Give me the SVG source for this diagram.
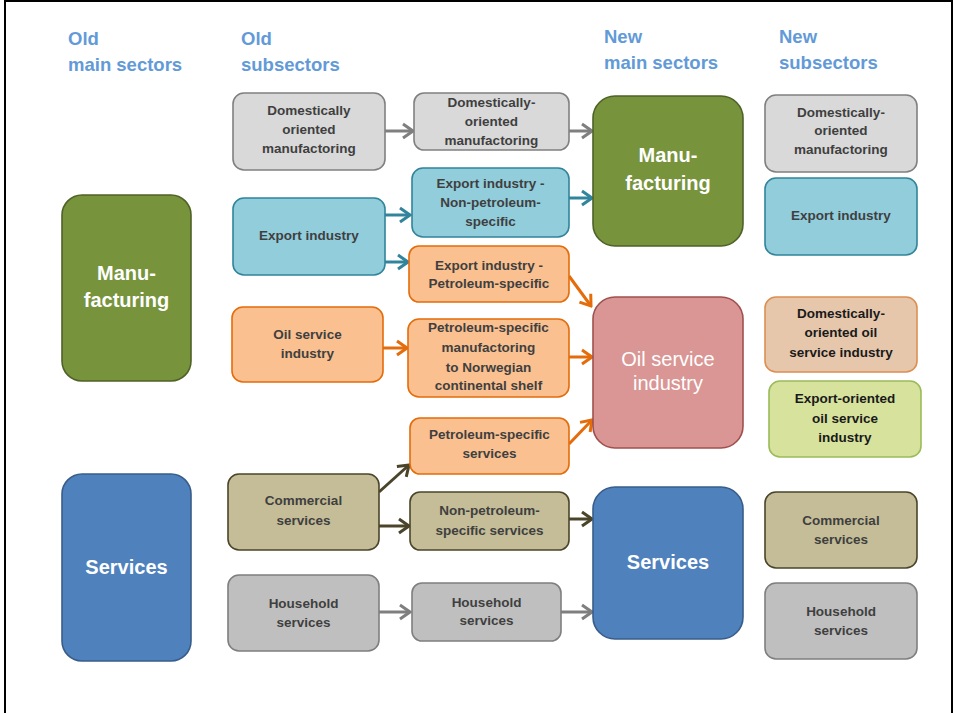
<svg xmlns="http://www.w3.org/2000/svg" width="955" height="713" viewBox="0 0 955 713">
<defs>
<style>
.hdr{font-family:"Liberation Sans",Arial,sans-serif;font-size:18.5px;font-weight:bold;fill:#629ad8}
.t{font-family:"Liberation Sans",Arial,sans-serif;font-size:13.5px;font-weight:bold;fill:#3f3f3f;text-anchor:middle}
.big{font-family:"Liberation Sans",Arial,sans-serif;font-size:20px;font-weight:bold;fill:#ffffff;text-anchor:middle}
.gray{fill:#d9d9d9;stroke:#808080;stroke-width:1.6}
.teal{fill:#92cddc;stroke:#31849b;stroke-width:1.6}
.orange{fill:#fac090;stroke:#e46c0a;stroke-width:1.6}
.olive{fill:#c4bd97;stroke:#4a452a;stroke-width:1.6}
.hh{fill:#bfbfbf;stroke:#7f7f7f;stroke-width:1.6}
.green{fill:#77933c;stroke:#4f6228;stroke-width:1.6}
.blue{fill:#4f81bd;stroke:#385d8a;stroke-width:1.6}
.pink{fill:#d99694;stroke:#a0504e;stroke-width:1.6}
.tan{fill:#e6c7ab;stroke:#dd8f52;stroke-width:1.6}
.lime{fill:#d7e29c;stroke:#9bbb59;stroke-width:1.6}
.c{fill:none;stroke-width:3}
.cg{stroke:#7f7f7f}
.ct{stroke:#31849b}
.co{stroke:#e46c0a}
.cd{stroke:#4a452a}
</style>
<marker id="ag" viewBox="0 0 14 18" refX="12" refY="9" markerWidth="14" markerHeight="18" markerUnits="userSpaceOnUse" orient="auto"><path d="M2,2 L12,9 L2,16" fill="none" stroke="#7f7f7f" stroke-width="3"/></marker>
<marker id="at" viewBox="0 0 14 18" refX="12" refY="9" markerWidth="14" markerHeight="18" markerUnits="userSpaceOnUse" orient="auto"><path d="M2,2 L12,9 L2,16" fill="none" stroke="#31849b" stroke-width="3"/></marker>
<marker id="ao" viewBox="0 0 14 18" refX="12" refY="9" markerWidth="14" markerHeight="18" markerUnits="userSpaceOnUse" orient="auto"><path d="M2,2 L12,9 L2,16" fill="none" stroke="#e46c0a" stroke-width="3"/></marker>
<marker id="ad" viewBox="0 0 14 18" refX="12" refY="9" markerWidth="14" markerHeight="18" markerUnits="userSpaceOnUse" orient="auto"><path d="M2,2 L12,9 L2,16" fill="none" stroke="#4a452a" stroke-width="3"/></marker>
</defs>
<rect x="0" y="0" width="955" height="713" fill="#ffffff"/>
<rect x="5" y="1" width="947" height="730" fill="none" stroke="#000000" stroke-width="2"/>

<g id="headers">
<text class="hdr" x="68" y="45">Old</text>
<text class="hdr" x="68" y="71">main sectors</text>
<text class="hdr" x="241" y="45">Old</text>
<text class="hdr" x="241" y="71">subsectors</text>
<text class="hdr" x="604" y="43">New</text>
<text class="hdr" x="604" y="69">main sectors</text>
<text class="hdr" x="779" y="43">New</text>
<text class="hdr" x="779" y="69">subsectors</text>
</g>

<g id="connectors">
<path class="c cg" d="M385,131 L413,131" marker-end="url(#ag)"/>
<path class="c cg" d="M569,131 L592,131" marker-end="url(#ag)"/>
<path class="c ct" d="M385,215 L410,215" marker-end="url(#at)"/>
<path class="c ct" d="M385,262 L408,262" marker-end="url(#at)"/>
<path class="c ct" d="M569,198 L592,198" marker-end="url(#at)"/>
<path class="c co" d="M569,276 L591,306" marker-end="url(#ao)"/>
<path class="c co" d="M383,348 L407,348" marker-end="url(#ao)"/>
<path class="c co" d="M569,357 L592,357" marker-end="url(#ao)"/>
<path class="c co" d="M569,444 L592,420" marker-end="url(#ao)"/>
<path class="c cd" d="M379,492 L409,465" marker-end="url(#ad)"/>
<path class="c cd" d="M379,526 L409,526" marker-end="url(#ad)"/>
<path class="c cd" d="M569,519 L592,519" marker-end="url(#ad)"/>
<path class="c cg" d="M379,612 L410,612" marker-end="url(#ag)"/>
<path class="c cg" d="M561,612 L592,612" marker-end="url(#ag)"/>
</g>

<g id="old-manufacturing">
<rect class="green" x="62" y="195" width="129" height="186" rx="20"/>
<text class="big" x="126.5" y="280">Manu-</text>
<text class="big" x="126.5" y="307">facturing</text>
</g>
<g id="old-services">
<rect class="blue" x="62" y="474" width="129" height="187" rx="20"/>
<text class="big" x="126.5" y="574">Services</text>
</g>

<g id="old-domestic">
<rect class="gray" x="233" y="93" width="152" height="77" rx="11"/>
<text class="t" x="309" y="115">Domestically</text>
<text class="t" x="309" y="134">oriented</text>
<text class="t" x="309" y="153">manufactoring</text>
</g>
<g id="old-export">
<rect class="teal" x="233" y="198" width="152" height="77" rx="11"/>
<text class="t" x="309" y="240">Export industry</text>
</g>
<g id="old-oilservice">
<rect class="orange" x="232" y="307" width="151" height="75" rx="11"/>
<text class="t" x="307.5" y="339">Oil service</text>
<text class="t" x="307.5" y="358">industry</text>
</g>
<g id="old-commercial">
<rect class="olive" x="228" y="474" width="151" height="76" rx="11"/>
<text class="t" x="303.5" y="505">Commercial</text>
<text class="t" x="303.5" y="525">services</text>
</g>
<g id="old-household">
<rect class="hh" x="228" y="575" width="151" height="76" rx="11"/>
<text class="t" x="303.5" y="608">Household</text>
<text class="t" x="303.5" y="627">services</text>
</g>

<g id="mid-domestic">
<rect class="gray" x="414" y="93" width="155" height="57" rx="10"/>
<text class="t" x="491.5" y="107">Domestically-</text>
<text class="t" x="491.5" y="126">oriented</text>
<text class="t" x="491.5" y="145">manufactoring</text>
</g>
<g id="mid-export-nonpet">
<rect class="teal" x="412" y="168" width="157" height="69" rx="11"/>
<text class="t" x="490.5" y="188">Export industry -</text>
<text class="t" x="490.5" y="207">Non-petroleum-</text>
<text class="t" x="490.5" y="226">specific</text>
</g>
<g id="mid-export-pet">
<rect class="orange" x="409" y="246" width="160" height="56" rx="10"/>
<text class="t" x="489" y="270">Export industry -</text>
<text class="t" x="489" y="288">Petroleum-specific</text>
</g>
<g id="mid-pet-mfg">
<rect class="orange" x="408" y="319" width="161" height="78" rx="11"/>
<text class="t" x="488.5" y="332">Petroleum-specific</text>
<text class="t" x="488.5" y="352">manufactoring</text>
<text class="t" x="488.5" y="372">to Norwegian</text>
<text class="t" x="488.5" y="390">continental  shelf</text>
</g>
<g id="mid-pet-services">
<rect class="orange" x="410" y="418" width="159" height="56" rx="10"/>
<text class="t" x="489.5" y="439">Petroleum-specific</text>
<text class="t" x="489.5" y="458">services</text>
</g>
<g id="mid-nonpet-services">
<rect class="olive" x="410" y="492" width="159" height="58" rx="10"/>
<text class="t" x="489.5" y="515">Non-petroleum-</text>
<text class="t" x="489.5" y="535">specific services</text>
</g>
<g id="mid-household">
<rect class="hh" x="412" y="583" width="149" height="58" rx="10"/>
<text class="t" x="486.5" y="607">Household</text>
<text class="t" x="486.5" y="625">services</text>
</g>

<g id="new-manufacturing">
<rect class="green" x="593" y="96" width="150" height="150" rx="22"/>
<text class="big" x="668" y="162">Manu-</text>
<text class="big" x="668" y="190">facturing</text>
</g>
<g id="new-oilservice">
<rect class="pink" x="593" y="297" width="150" height="151" rx="22"/>
<text class="big" x="668" y="366" style="font-weight:normal">Oil service</text>
<text class="big" x="668" y="390" style="font-weight:normal">industry</text>
</g>
<g id="new-services">
<rect class="blue" x="593" y="487" width="150" height="152" rx="22"/>
<text class="big" x="668" y="569">Services</text>
</g>

<g id="new-domestic">
<rect class="gray" x="765" y="95" width="152" height="77" rx="11"/>
<text class="t" x="841" y="117">Domestically-</text>
<text class="t" x="841" y="135">oriented</text>
<text class="t" x="841" y="154">manufactoring</text>
</g>
<g id="new-export">
<rect class="teal" x="765" y="178" width="152" height="77" rx="11"/>
<text class="t" x="841" y="220">Export industry</text>
</g>
<g id="new-dom-oil">
<rect class="tan" x="765" y="297" width="152" height="75" rx="11"/>
<text class="t" x="841" y="318" style="fill:#1a1a1a">Domestically-</text>
<text class="t" x="841" y="337" style="fill:#1a1a1a">oriented oil</text>
<text class="t" x="841" y="357" style="fill:#1a1a1a">service industry</text>
</g>
<g id="new-export-oil">
<rect class="lime" x="769" y="381" width="152" height="76" rx="11"/>
<text class="t" x="845" y="403" style="fill:#1a1a1a">Export-oriented</text>
<text class="t" x="845" y="423" style="fill:#1a1a1a">oil service</text>
<text class="t" x="845" y="442" style="fill:#1a1a1a">industry</text>
</g>
<g id="new-commercial">
<rect class="olive" x="765" y="492" width="152" height="76" rx="11"/>
<text class="t" x="841" y="525">Commercial</text>
<text class="t" x="841" y="544">services</text>
</g>
<g id="new-household">
<rect class="hh" x="765" y="583" width="152" height="76" rx="11"/>
<text class="t" x="841" y="616">Household</text>
<text class="t" x="841" y="635">services</text>
</g>
</svg>
